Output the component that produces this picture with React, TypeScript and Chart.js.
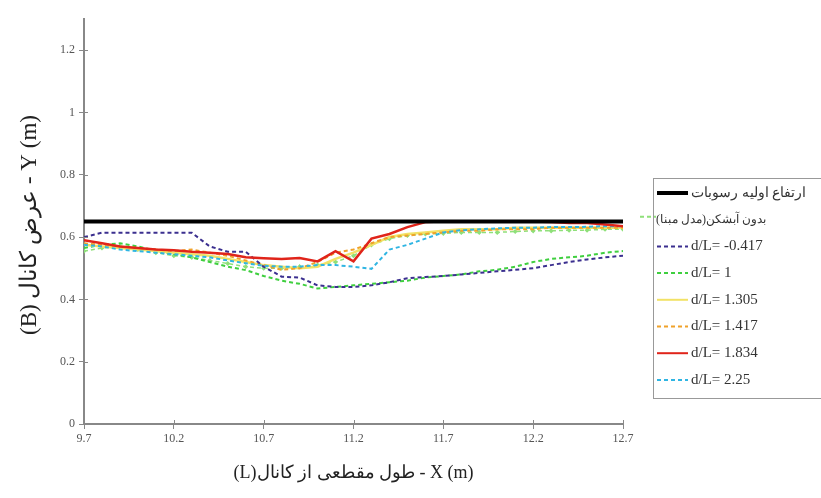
import { useEffect, useRef } from 'react';
import { Chart, registerables } from 'chart.js';
Chart.register(...registerables);

// ---- data ----
const X = [9.7, 9.8, 9.9, 10.0, 10.1, 10.2, 10.3, 10.4, 10.5, 10.6, 10.7, 10.8, 10.9, 11.0, 11.1, 11.2, 11.3, 11.4, 11.5, 11.6, 11.7, 11.8, 11.9, 12.0, 12.1, 12.2, 12.3, 12.4, 12.5, 12.6, 12.7];
const X_TICKS = [9.7, 10.2, 10.7, 11.2, 11.7, 12.2, 12.7];
const Y_TICKS = [0, 0.2, 0.4, 0.6, 0.8, 1, 1.2];

const SED_X = [9.7, 12.7];
const SED_Y = [0.65, 0.65];

const BASE = [0.555, 0.565, 0.57, 0.56, 0.55, 0.54, 0.535, 0.525, 0.515, 0.505, 0.5, 0.5, 0.505, 0.51, 0.52, 0.54, 0.575, 0.595, 0.605, 0.61, 0.612, 0.615, 0.615, 0.615, 0.618, 0.62, 0.62, 0.622, 0.622, 0.625, 0.625];
const DL_M0417 = [0.6, 0.614, 0.614, 0.614, 0.614, 0.614, 0.614, 0.57, 0.553, 0.553, 0.505, 0.473, 0.47, 0.445, 0.44, 0.44, 0.445, 0.455, 0.468, 0.472, 0.475, 0.48, 0.485, 0.49, 0.495, 0.5, 0.51, 0.52, 0.528, 0.535, 0.54];
const DL_1 = [0.565, 0.575, 0.58, 0.57, 0.555, 0.545, 0.535, 0.52, 0.505, 0.494, 0.475, 0.46, 0.45, 0.435, 0.44, 0.445, 0.45, 0.455, 0.46, 0.47, 0.475, 0.48, 0.49, 0.495, 0.505, 0.52, 0.53, 0.535, 0.54, 0.55, 0.555];
const DL_1305 = [0.575, 0.57, 0.565, 0.56, 0.555, 0.55, 0.545, 0.54, 0.53, 0.52, 0.51, 0.505, 0.5, 0.505, 0.53, 0.55, 0.575, 0.6, 0.61, 0.615, 0.62, 0.625, 0.625, 0.625, 0.63, 0.63, 0.63, 0.63, 0.63, 0.63, 0.63];
const DL_1417 = [0.58, 0.575, 0.57, 0.565, 0.56, 0.555, 0.56, 0.55, 0.54, 0.525, 0.51, 0.495, 0.5, 0.52, 0.55, 0.56, 0.58, 0.6, 0.605, 0.61, 0.615, 0.62, 0.62, 0.625, 0.625, 0.625, 0.63, 0.63, 0.63, 0.63, 0.63];
const DL_1834 = [0.59, 0.58, 0.57, 0.565, 0.56, 0.558, 0.553, 0.55, 0.546, 0.535, 0.532, 0.53, 0.533, 0.522, 0.555, 0.522, 0.595, 0.61, 0.632, 0.648, 0.65, 0.65, 0.65, 0.65, 0.65, 0.65, 0.648, 0.645, 0.645, 0.64, 0.635];
const DL_225 = [0.575, 0.57, 0.56, 0.555, 0.55, 0.545, 0.54, 0.535, 0.525, 0.516, 0.508, 0.505, 0.505, 0.51, 0.51, 0.505, 0.498, 0.56, 0.575, 0.595, 0.615, 0.622, 0.625, 0.628, 0.63, 0.63, 0.632, 0.632, 0.633, 0.635, 0.635];

const LABELS = ['ارتفاع اولیه رسوبات', 'بدون آبشکن(مدل مبنا)', 'd/L= -0.417', 'd/L= 1', 'd/L= 1.305', 'd/L= 1.417', 'd/L= 1.834', 'd/L= 2.25'];
const Y_TITLE = '(B) عرض کانال - Y (m)';
const X_TITLE = '(L)طول مقطعی از کانال - X (m)';

const pts = (xs: number[], ys: number[]) => xs.map((x, i) => ({ x, y: ys[i] }));

const SERIF = "'Liberation Serif', 'DejaVu Serif', serif";

export default function App() {
  const ref = useRef<HTMLCanvasElement>(null);
  useEffect(() => {
    document.body.style.margin = '0';
    const series = [
      { label: LABELS[0], data: pts(SED_X, SED_Y), borderColor: '#000000', borderWidth: 4, dash: [] as number[], order: 0 },
      { label: LABELS[1], data: pts(X, BASE), borderColor: '#8fe07a', borderWidth: 1.5, dash: [4, 3], order: 7, point: true },
      { label: LABELS[2], data: pts(X, DL_M0417), borderColor: '#3b2f8f', borderWidth: 2, dash: [4, 3], order: 3 },
      { label: LABELS[3], data: pts(X, DL_1), borderColor: '#3fcf3f', borderWidth: 2, dash: [4, 3], order: 6 },
      { label: LABELS[4], data: pts(X, DL_1305), borderColor: '#f2e266', borderWidth: 2.5, dash: [] as number[], order: 5 },
      { label: LABELS[5], data: pts(X, DL_1417), borderColor: '#f0a22a', borderWidth: 2, dash: [4, 3], order: 4 },
      { label: LABELS[6], data: pts(X, DL_1834), borderColor: '#e0241a', borderWidth: 2.5, dash: [] as number[], order: 1 },
      { label: LABELS[7], data: pts(X, DL_225), borderColor: '#2fb5e3', borderWidth: 2, dash: [4, 3], order: 2 },
    ];

    const custom = {
      id: 'custom',
      afterDraw(chart: any) {
        const ctx = chart.ctx as CanvasRenderingContext2D;
        const ca = chart.chartArea;
        const xs = chart.scales.x;
        const ys = chart.scales.y;
        ctx.save();
        // cross tick marks inside axes
        ctx.strokeStyle = '#888';
        ctx.lineWidth = 1;
        Y_TICKS.forEach((v) => {
          const py = Math.round(ys.getPixelForValue(v)) + 0.5;
          ctx.beginPath(); ctx.moveTo(ca.left, py); ctx.lineTo(ca.left + 4, py); ctx.stroke();
        });
        X_TICKS.forEach((v) => {
          const px = Math.round(xs.getPixelForValue(v)) + 0.5;
          ctx.beginPath(); ctx.moveTo(px, ca.bottom); ctx.lineTo(px, ca.bottom - 4); ctx.stroke();
        });
        // titles
        ctx.fillStyle = '#222';
        ctx.direction = 'ltr';
        ctx.textAlign = 'center';
        ctx.textBaseline = 'middle';
        ctx.font = `23px ${SERIF}`;
        ctx.save();
        ctx.translate(30, 225);
        ctx.rotate(-Math.PI / 2);
        ctx.fillText(Y_TITLE, 0, 0);
        ctx.restore();
        ctx.font = `18px ${SERIF}`;
        ctx.fillText(X_TITLE, (ca.left + ca.right) / 2, 473);
        // legend
        const lx = 653, ly = 178, lw = 200, lh = 220;
        ctx.strokeStyle = '#999';
        ctx.lineWidth = 1;
        ctx.strokeRect(lx + 0.5, ly + 0.5, lw, lh);
        ctx.textAlign = 'left';
        series.forEach((s, i) => {
          const cy = 193 + i * 26.7;
          ctx.save();
          ctx.strokeStyle = s.borderColor;
          ctx.lineWidth = i === 0 ? 4 : 2;
          ctx.setLineDash(s.dash);
          ctx.beginPath();
          if (i === 1) { ctx.moveTo(640, cy - 3); ctx.lineTo(656, cy - 3); }
          else { ctx.moveTo(657, cy); ctx.lineTo(688, cy); }
          ctx.stroke();
          ctx.restore();
          ctx.fillStyle = '#333';
          ctx.font = i === 0 ? `14px ${SERIF}` : i === 1 ? `12px ${SERIF}` : `15px ${SERIF}`;
          ctx.fillText(s.label, i === 1 ? 656 : 691, cy);
        });
        ctx.restore();
      },
    };

    const chart = new Chart(ref.current!, {
      type: 'line',
      data: {
        datasets: series.map((s) => ({
          label: s.label,
          data: s.data,
          borderColor: s.borderColor,
          backgroundColor: s.borderColor,
          borderWidth: s.borderWidth,
          borderDash: s.dash,
          order: s.order,
          pointRadius: (s as any).point ? 1.5 : 0,
          pointStyle: 'rectRot',
          tension: 0,
          fill: false,
        })),
      },
      options: {
        animation: false,
        responsive: false,
        layout: { padding: { top: 19, right: 198, left: 0, bottom: 0 } },
        plugins: { legend: { display: false }, tooltip: { enabled: false } },
        scales: {
          x: {
            type: 'linear',
            min: 9.7,
            max: 12.7,
            afterBuildTicks: (s: any) => { s.ticks = X_TICKS.map((v) => ({ value: v })); },
            afterFit: (s: any) => { s.height = 74; },
            grid: { drawOnChartArea: false, tickLength: 5, color: '#888' },
            border: { color: '#888', width: 2 },
            ticks: { font: { family: SERIF, size: 12 }, color: '#555', padding: 3, maxRotation: 0, autoSkip: false, callback: (v: any) => String(v) },
          },
          y: {
            min: 0,
            max: 1.3,
            afterBuildTicks: (s: any) => { s.ticks = Y_TICKS.map((v) => ({ value: v })); },
            afterFit: (s: any) => { s.width = 84; },
            grid: { drawOnChartArea: false, tickLength: 5, color: '#888' },
            border: { color: '#888', width: 2 },
            ticks: { font: { family: SERIF, size: 12 }, color: '#555', padding: 4, callback: (v: any) => String(v) },
          },
        },
      },
      plugins: [custom],
    });
    return () => chart.destroy();
  }, []);
  return (
    <div style={{ width: 821, height: 498, position: 'relative' }}>
      <canvas ref={ref} width={821} height={498} style={{ display: 'block' }} />
    </div>
  );
}
